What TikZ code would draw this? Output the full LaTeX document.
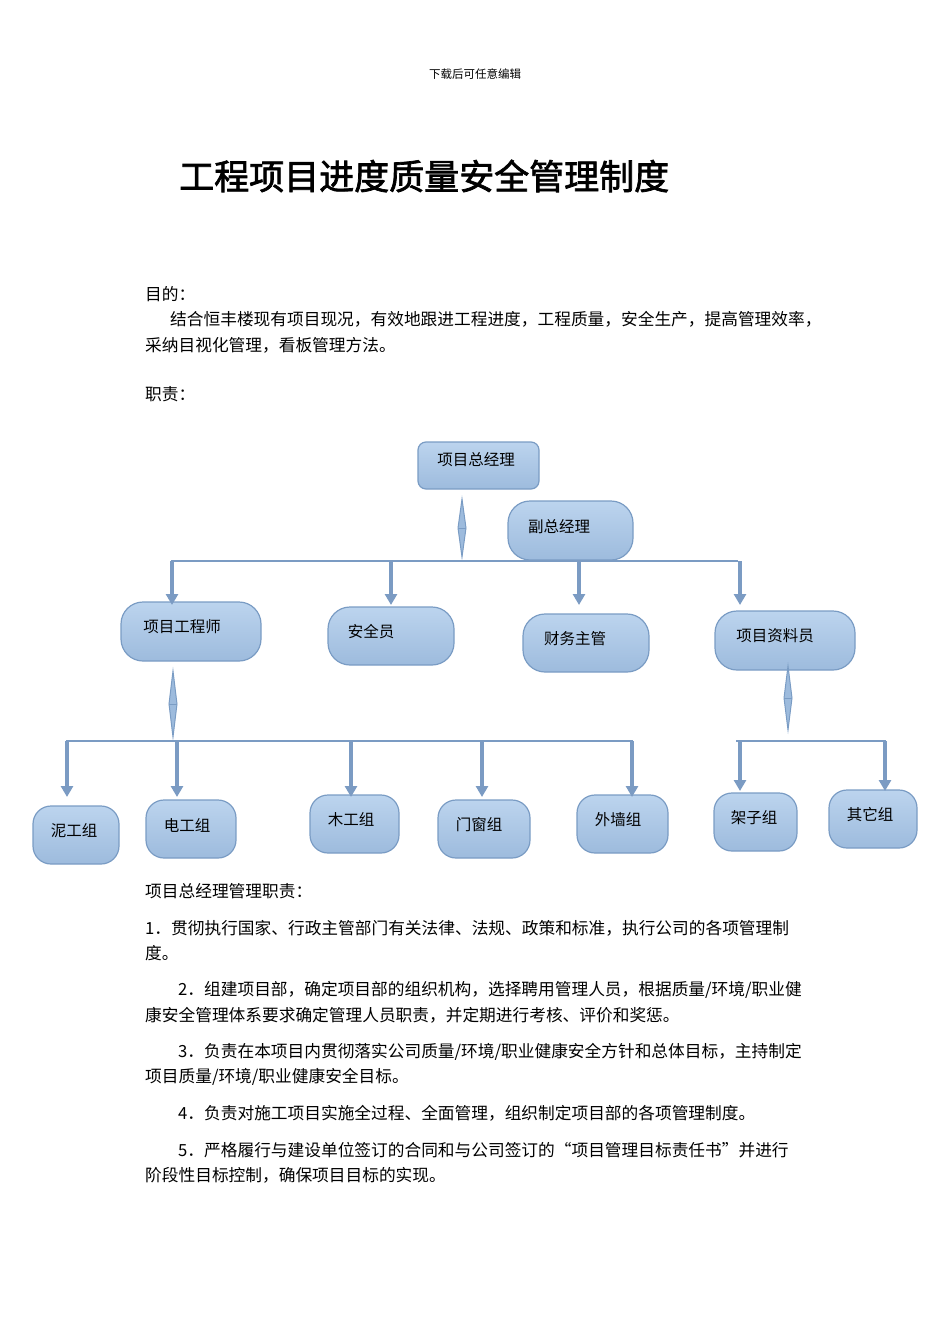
\documentclass[tikz,border=0pt]{standalone}
\usepackage{fontspec}
\setmainfont{Noto Sans CJK SC}
\newfontfamily\cjkb[AutoFakeBold=2]{Noto Sans CJK SC}
\usetikzlibrary{arrows.meta}
\definecolor{bd}{HTML}{7A9CC4}
\definecolor{ar}{HTML}{7B9BC3}
\definecolor{ftop}{HTML}{BCD4EE}
\definecolor{fbot}{HTML}{9DBBDD}
\tikzset{
 box/.style={draw=bd,line width=1.2pt,top color=ftop,bottom color=fbot,inner sep=0pt},
 lbl/.style={anchor=center,font=\fontsize{15.5}{18}\selectfont,inner sep=0pt},
 txt/.style={anchor=west,font=\fontsize{16.7}{18}\selectfont,inner sep=0pt},
 conn/.style={draw=ar,line width=1.6pt},
 dn/.style={draw=ar,line width=3.5pt,-{Triangle[length=11pt,width=12pt]}},
}
\newcommand{\mybox}[6]{% name x1 y1 x2 y2 radius
 \node[box,rounded corners=#6,minimum width=#4pt-#2pt,minimum height=#5pt-#3pt] (#1) at ({(#2+#4)/2},{(#3+#5)/2}) {};}
\newcommand{\dia}[4]{% name x ytop ybot
 \coordinate (#1t) at (#2,#3); \coordinate (#1b) at (#2,#4);
 \fill[fbot,draw=bd,line width=1pt] (#1t) -- (#2+4,{(#3+#4)/2}) -- (#1b) -- (#2-4,{(#3+#4)/2}) -- cycle;
 \draw[bd,line width=0.8pt] (#2-4,{(#3+#4)/2}) -- (#2+4,{(#3+#4)/2});}
\begin{document}
\begin{tikzpicture}[x=1pt,y=-1pt]
\useasboundingbox (0,0) rectangle (950,1344);
\node[font=\fontsize{11.5}{13}\selectfont] (hdr) at (475,74) {下载后可任意编辑};
\node[anchor=west,font=\cjkb\bfseries\fontsize{35}{38}\selectfont,inner sep=0pt] (title) at (179,176) {工程项目进度质量安全管理制度};
\node[txt] (p1) at (145,294) {目的：};
\node[txt] (p2) at (170,319) {结合恒丰楼现有项目现况，有效地跟进工程进度，工程质量，安全生产，提高管理效率，};
\node[txt] (p3) at (145,345) {采纳目视化管理，看板管理方法。};
\node[txt] (p4) at (145,394) {职责：};
% boxes
\mybox{gm}{418}{442}{539}{489}{8pt}
\mybox{vgm}{508}{501}{633}{560}{22pt}
\mybox{eng}{121}{602}{261}{661}{22pt}
\mybox{saf}{328}{607}{454}{665}{22pt}
\mybox{fin}{523}{614}{649}{672}{22pt}
\mybox{doc}{715}{611}{855}{670}{22pt}
\mybox{g1}{33}{806}{119}{864}{18pt}
\mybox{g2}{146}{800}{236}{858}{18pt}
\mybox{g3}{310}{795}{399}{853}{18pt}
\mybox{g4}{438}{800}{530}{858}{18pt}
\mybox{g5}{577}{795}{668}{853}{18pt}
\mybox{g6}{714}{793}{797}{851}{18pt}
\mybox{g7}{829}{790}{917}{848}{18pt}
\node[lbl] (tgm) at (476,460) {项目总经理};
\node[lbl] (tvgm) at (559,527) {副总经理};
\node[lbl] (teng) at (182,627) {项目工程师};
\node[lbl] (tsaf) at (371,632) {安全员};
\node[lbl] (tfin) at (575,639) {财务主管};
\node[lbl] (tdoc) at (775,636) {项目资料员};
\node[lbl] (tg1) at (74,831) {泥工组};
\node[lbl] (tg2) at (187,825) {电工组};
\node[lbl] (tg3) at (351,820) {木工组};
\node[lbl] (tg4) at (479,825) {门窗组};
\node[lbl] (tg5) at (618,820) {外墙组};
\node[lbl] (tg6) at (754,818) {架子组};
\node[lbl] (tg7) at (870,815) {其它组};
% connectors
\dia{d1}{462}{499}{557}
\coordinate (L1a) at (171,561); \coordinate (L1b) at (738,561);
\draw[conn] (L1a) -- (L1b);
\foreach \x in {172,391,579,740}{\draw[dn] (\x,561) -- (\x,605);}
\dia{d2}{173}{671}{737}
\dia{d3}{788}{666}{730}
\draw[conn] (66,741) -- (633,741);
\foreach \x in {67,177,351,482,632}{\draw[dn] (\x,741) -- (\x,797);}
\draw[conn] (736,741) -- (886,741);
\foreach \x in {740,885}{\draw[dn] (\x,741) -- (\x,791);}
% text
\node[txt] (q0) at (145,891) {项目总经理管理职责：};
\node[txt] (q1) at (145,928) {1．贯彻执行国家、行政主管部门有关法律、法规、政策和标准，执行公司的各项管理制};
\node[txt] (q1b) at (145,953) {度。};
\node[txt] (q2) at (178,990) {2．组建项目部，确定项目部的组织机构，选择聘用管理人员，根据质量/环境/职业健};
\node[txt] (q2b) at (145,1015) {康安全管理体系要求确定管理人员职责，并定期进行考核、评价和奖惩。};
\node[txt] (q3) at (178,1052) {3．负责在本项目内贯彻落实公司质量/环境/职业健康安全方针和总体目标，主持制定};
\node[txt] (q3b) at (145,1077) {项目质量/环境/职业健康安全目标。};
\node[txt] (q4) at (178,1113) {4．负责对施工项目实施全过程、全面管理，组织制定项目部的各项管理制度。};
\node[txt] (q5) at (178,1150) {5．严格履行与建设单位签订的合同和与公司签订的“项目管理目标责任书”并进行};
\node[txt] (q5b) at (145,1175) {阶段性目标控制，确保项目目标的实现。};
\end{tikzpicture}
\end{document}
